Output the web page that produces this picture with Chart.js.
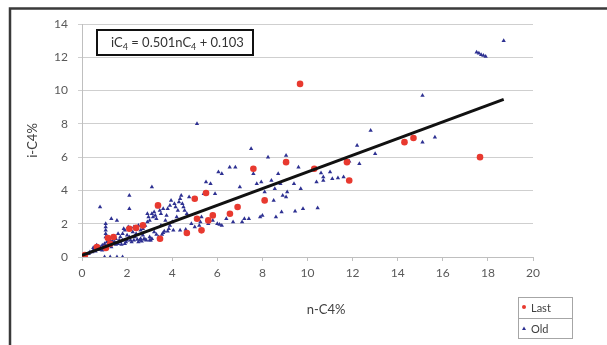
<!DOCTYPE html>
<html>
<head>
<meta charset="utf-8">
<script src="https://cdn.jsdelivr.net/npm/chart.js@4.4.1/dist/chart.umd.min.js"></script>
<style>
  html, body { margin: 0; padding: 0; background: #fff; }
  canvas { display: block; }
</style>
</head>
<body>
<canvas id="c4Chart" width="607" height="345"></canvas>
<script>
// n-C4% / i-C4% pairs, latest samples
const lastN = [0.13, 0.66, 1.06, 1.15, 1.4, 1.25, 2.1, 2.4, 2.7, 3.37, 3.46, 4.65, 5.0, 5.1, 5.3, 5.5, 5.6, 5.8, 6.56, 6.9, 7.6, 8.1, 9.05, 9.67, 10.3, 11.75, 11.85, 14.3, 14.7, 17.65];
const lastI = [0.12, 0.6, 0.54, 1.14, 1.2, 0.8, 1.7, 1.75, 1.9, 3.1, 1.1, 1.44, 3.5, 2.3, 1.6, 3.85, 2.2, 2.5, 2.6, 3.0, 5.3, 3.4, 5.7, 10.4, 5.3, 5.7, 4.6, 6.9, 7.15, 6.0];

// older samples
const oldN = [0.3, 0.35, 0.5, 0.5, 0.6, 0.65, 0.7, 0.8, 0.8, 0.9, 0.9, 1.0, 1.0, 1.05, 1.05, 1.05, 1.05, 1.05, 1.1, 1.2, 1.25, 1.3, 1.3, 1.4, 1.45, 1.5, 1.55, 1.6, 1.7, 1.7, 1.8, 1.8, 1.9, 1.9, 2.0, 2.05, 2.1, 2.1, 2.1, 2.2, 2.3, 2.35, 2.4, 2.5, 2.6, 2.6, 2.7, 2.8, 2.8, 2.9, 2.95, 3.0, 3.1, 3.1, 3.1, 3.2, 3.2, 3.3, 3.4, 3.45, 3.5, 3.6, 3.6, 3.7, 3.75, 3.8, 3.9, 3.9, 4.05, 4.1, 4.2, 4.25, 4.35, 4.35, 4.4, 4.5, 4.65, 0.8, 1.0, 1.25, 1.55, 1.8,
  0.45, 0.75, 0.95, 1.15, 1.35, 1.5, 1.65, 1.75, 1.95, 2.15, 2.25, 2.45, 2.55, 2.65, 2.75, 2.85, 2.9, 3.0, 3.05, 3.15, 3.25, 3.3, 3.35, 3.5, 3.55, 3.65, 3.8, 3.85, 3.95, 4.0, 4.15, 4.3, 4.45, 4.55, 4.6, 4.75, 4.85, 2.3, 2.5, 2.7, 1.6, 1.85, 2.0, 3.0,
  5.0, 5.1, 5.2, 5.3, 5.4, 5.5, 5.7, 5.9, 6.05, 6.2, 6.0, 6.2, 6.55, 6.8, 7.0, 7.1, 7.2, 7.4, 7.5, 7.6, 7.75, 7.95, 8.1, 7.9, 8.0, 8.25, 8.4, 8.55, 8.7, 8.8, 8.6, 8.85, 9.05, 9.1, 9.45, 9.4, 9.6, 8.9, 9.05, 8.5, 9.7, 9.8, 10.45, 10.4, 10.6, 10.7, 10.7, 11.0, 11.1, 11.35, 11.6, 11.85, 12.2, 12.3, 12.8, 13.0, 15.1, 15.1, 15.65, 17.5, 17.6, 17.7, 17.8, 17.9, 18.7,
  5.25, 5.6, 5.8, 6.1, 6.4, 6.7];
const oldI = [0.2, 0.3, 0.4, 0.55, 0.35, 0.7, 0.5, 0.45, 0.6, 0.7, 0.4, 0.8, 0.55, 1.2, 1.4, 1.6, 1.8, 2.0, 0.9, 0.7, 1.0, 0.6, 2.3, 0.85, 0.9, 1.1, 2.2, 0.8, 0.9, 1.2, 1.0, 1.4, 1.6, 0.8, 1.0, 1.8, 1.2, 2.9, 3.7, 0.9, 1.0, 1.2, 1.4, 0.9, 1.1, 1.6, 1.3, 1.05, 1.9, 2.1, 2.4, 1.2, 2.6, 1.1, 4.2, 2.7, 1.5, 2.3, 1.2, 2.8, 1.9, 2.9, 1.45, 2.2, 2.5, 1.55, 3.1, 1.9, 1.6, 3.2, 2.4, 2.8, 3.5, 1.6, 3.7, 3.0, 2.6, 3.0, 0, 0, 0, 0,
  0.3, 0.45, 0.6, 0.75, 0.95, 0.75, 1.0, 0.75, 0.9, 1.0, 1.5, 1.05, 1.0, 0.95, 1.1, 1.0, 2.6, 2.2, 1.0, 2.4, 2.5, 1.35, 3.0, 2.6, 1.35, 1.55, 2.9, 1.7, 3.4, 2.1, 3.0, 3.3, 3.2, 2.8, 1.65, 3.6, 2.0, 1.8, 1.9, 1.7, 1.4, 1.7, 1.3, 1.0,
  1.8, 8.0, 1.9, 2.4, 3.8, 4.5, 4.4, 3.8, 5.1, 5.0, 2.0, 1.9, 5.4, 5.4, 4.2, 2.1, 2.3, 2.3, 6.5, 5.0, 4.4, 4.5, 3.9, 2.4, 2.5, 6.0, 4.6, 4.1, 5.0, 4.4, 2.4, 2.7, 6.1, 3.9, 2.75, 4.4, 5.4, 3.7, 3.6, 3.4, 4.1, 2.9, 2.95, 4.5, 5.05, 4.8, 4.6, 5.1, 4.7, 4.75, 4.8, 5.75, 6.7, 5.6, 7.6, 6.2, 9.7, 6.9, 7.2, 12.3, 12.25, 12.15, 12.1, 12.05, 13.0,
  2.1, 2.0, 2.2, 1.95, 2.3, 2.1];

// linear fit iC4 = slope * nC4 + intercept
const slope = 0.501;
const intercept = 0.103;
const fitRange = [0, 18.7];

const xTicks = [0, 2, 4, 6, 8, 10, 12, 14, 16, 18, 20];
const yTicks = [0, 2, 4, 6, 8, 10, 12, 14];

const toPoints = (xs, ys) => xs.map((x, i) => ({ x: x, y: ys[i] }));

const RED = '#e8392f';
const BLUE = '#2e3192';
const FONT = 'Lato, "Open Sans", sans-serif';

// frame, equation box, x title and legend
const decorations = {
  id: 'decorations',
  beforeDraw(chart) {
    const ctx = chart.ctx;
    ctx.save();
    ctx.fillStyle = '#fff';
    ctx.fillRect(0, 0, chart.width, chart.height);
    ctx.restore();
  },
  afterDraw(chart) {
    const ctx = chart.ctx;
    ctx.save();

    // outer border
    ctx.strokeStyle = '#3a3a3a';
    ctx.lineWidth = 2.5;
    ctx.beginPath();
    ctx.moveTo(10, chart.height);
    ctx.lineTo(10, 8.5);
    ctx.lineTo(chart.width, 8.5);
    ctx.stroke();

    // equation box
    ctx.fillStyle = '#fff';
    ctx.fillRect(97, 30, 156, 25);
    ctx.strokeStyle = '#111';
    ctx.lineWidth = 2;
    ctx.strokeRect(97, 30, 156, 25);

    ctx.fillStyle = '#333';
    ctx.textBaseline = 'alphabetic';
    ctx.textAlign = 'left';
    const big = '13px ' + FONT;
    const small = '9px ' + FONT;
    const base = 47;
    const parts = [
      ['iC', big, 0], ['4', small, 3], [' = ' + slope + 'nC', big, 0], ['4', small, 3], [' + ' + intercept, big, 0]
    ];
    let x = 111;
    parts.forEach(([t, f, dy]) => {
      ctx.font = f;
      ctx.fillText(t, x, base + dy);
      x += ctx.measureText(t).width;
    });

    // x axis title
    ctx.font = '13px ' + FONT;
    ctx.fillStyle = '#404040';
    ctx.textAlign = 'center';
    ctx.textBaseline = 'middle';
    ctx.fillText('n-C4%', 326, 310);

    // legend
    ctx.strokeStyle = '#a6a6a6';
    ctx.lineWidth = 1;
    ctx.strokeRect(518.5, 297.5, 54, 41);
    ctx.beginPath();
    ctx.moveTo(518.5, 318.5);
    ctx.lineTo(572.5, 318.5);
    ctx.stroke();

    ctx.font = '11px ' + FONT;
    ctx.textAlign = 'left';
    ctx.fillStyle = '#404040';
    ctx.fillText('Last', 531, 308);
    ctx.fillText('Old', 531, 329);

    ctx.fillStyle = RED;
    ctx.beginPath();
    ctx.arc(524, 307, 2, 0, Math.PI * 2);
    ctx.fill();

    ctx.fillStyle = BLUE;
    ctx.beginPath();
    ctx.moveTo(524, 326.5);
    ctx.lineTo(526, 330);
    ctx.lineTo(522, 330);
    ctx.closePath();
    ctx.fill();

    ctx.restore();
  }
};

new Chart(document.getElementById('c4Chart'), {
  type: 'scatter',
  data: {
    datasets: [
      {
        label: 'Fit',
        type: 'line',
        data: fitRange.map(n => ({ x: n, y: slope * n + intercept })),
        borderColor: '#111',
        borderWidth: 3,
        pointRadius: 0,
        fill: false,
        order: 0
      },
      {
        label: 'Last',
        data: toPoints(lastN, lastI),
        backgroundColor: RED,
        borderColor: RED,
        pointRadius: 3.3,
        borderWidth: 0,
        order: 1
      },
      {
        label: 'Old',
        data: toPoints(oldN, oldI),
        pointStyle: 'triangle',
        backgroundColor: BLUE,
        borderColor: BLUE,
        pointRadius: 2.5,
        borderWidth: 0,
        order: 2
      }
    ]
  },
  options: {
    responsive: false,
    animation: false,
    layout: { padding: { left: 22, top: 24, right: 74, bottom: 0 } },
    plugins: {
      legend: { display: false },
      tooltip: { enabled: false }
    },
    scales: {
      x: {
        type: 'linear',
        min: xTicks[0],
        max: xTicks[xTicks.length - 1],
        afterFit(scale) { scale.height = 88; },
        afterBuildTicks(scale) { scale.ticks = xTicks.map(v => ({ value: v })); },
        border: { color: '#bfbfbf' },
        grid: { drawOnChartArea: false, drawTicks: true, tickLength: 4, color: '#bfbfbf' },
        ticks: { padding: 5, color: '#595959', font: { family: FONT, size: 12 } }
      },
      y: {
        type: 'linear',
        min: yTicks[0],
        max: yTicks[yTicks.length - 1],
        afterFit(scale) { scale.width = 60; },
        afterBuildTicks(scale) { scale.ticks = yTicks.map(v => ({ value: v })); },
        border: { color: '#bfbfbf' },
        grid: { color: '#cfcfcf', tickLength: 4 },
        ticks: { padding: 10, color: '#595959', font: { family: FONT, size: 12 } },
        title: {
          display: true,
          text: 'i-C4%',
          color: '#404040',
          padding: { top: 3, bottom: 0 },
          font: { family: FONT, size: 13 }
        }
      }
    }
  },
  plugins: [decorations]
});
</script>
</body>
</html>
